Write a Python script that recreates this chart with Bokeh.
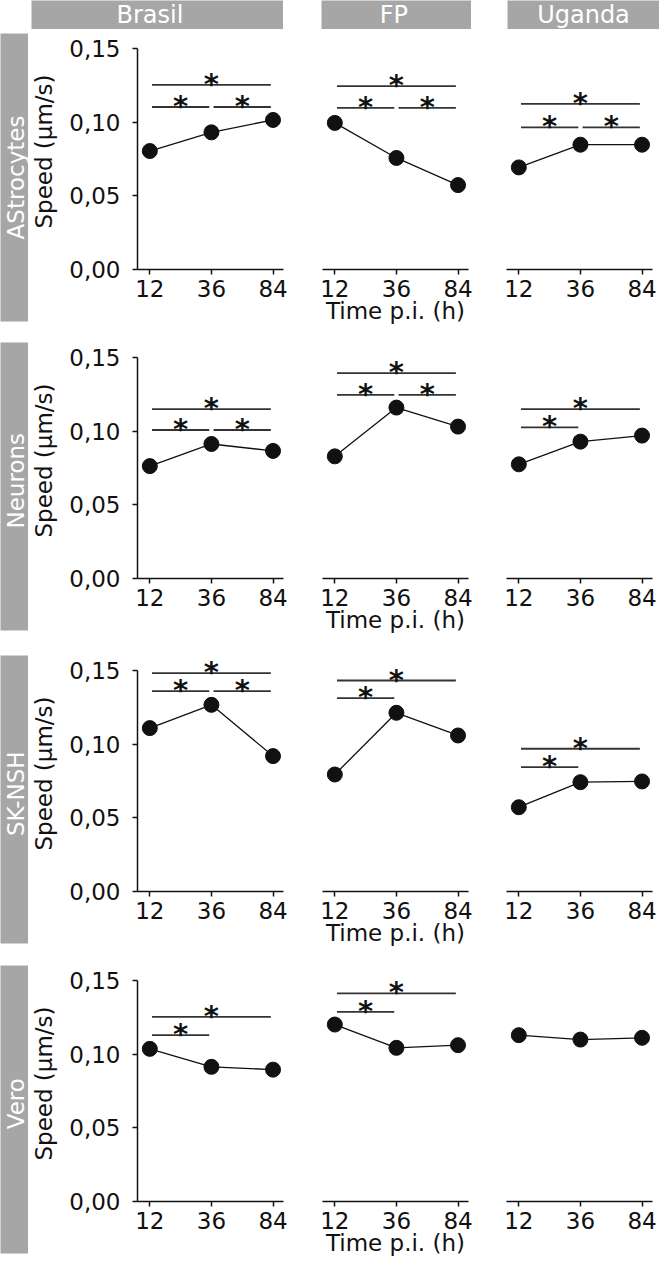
import numpy as np
from bokeh.plotting import figure
from bokeh.layouts import row, column
from bokeh.models import FixedTicker, CustomJSTickFormatter, Range1d, ColumnDataSource
from bokeh.core.properties import value
from bokeh.embed import file_html
from bokeh.resources import INLINE

# ---------------- data ----------------
times = ["12", "36", "84"]
cells = ["AStrocytes", "Neurons", "SK-NSH", "Vero"]
strains = ["Brasil", "FP", "Uganda"]
speed_ticks = [0.0, 0.05, 0.10, 0.15]

astro_brasil = [0.0804, 0.0931, 0.1015]
astro_fp = [0.0995, 0.0757, 0.0573]
astro_uganda = [0.0693, 0.0847, 0.0847]
neuron_brasil = [0.0763, 0.0913, 0.0866]
neuron_fp = [0.0829, 0.1160, 0.1031]
neuron_uganda = [0.0775, 0.0929, 0.0970]
sknsh_brasil = [0.1109, 0.1267, 0.0919]
sknsh_fp = [0.0794, 0.1213, 0.1059]
sknsh_uganda = [0.0572, 0.0742, 0.0747]
vero_brasil = [0.1036, 0.0914, 0.0895]
vero_fp = [0.1201, 0.1043, 0.1061]
vero_uganda = [0.1129, 0.1099, 0.1111]

# significance brackets: (from time index, to time index, bracket height)
sig_astro_brasil = [(0, 1, 0.1103), (1, 2, 0.1103), (0, 2, 0.1253)]
sig_astro_fp = [(0, 1, 0.1097), (1, 2, 0.1097), (0, 2, 0.1244)]
sig_astro_uganda = [(0, 1, 0.0965), (1, 2, 0.0965), (0, 2, 0.1124)]
sig_neuron_brasil = [(0, 1, 0.1008), (1, 2, 0.1008), (0, 2, 0.1149)]
sig_neuron_fp = [(0, 1, 0.1246), (1, 2, 0.1246), (0, 2, 0.1394)]
sig_neuron_uganda = [(0, 1, 0.1026), (0, 2, 0.1149)]
sig_sknsh_brasil = [(0, 1, 0.1360), (1, 2, 0.1360), (0, 2, 0.1482)]
sig_sknsh_fp = [(0, 1, 0.1312), (0, 2, 0.1432)]
sig_sknsh_uganda = [(0, 1, 0.0844), (0, 2, 0.0969)]
sig_vero_brasil = [(0, 1, 0.1129), (0, 2, 0.1253)]
sig_vero_fp = [(0, 1, 0.1287), (0, 2, 0.1412)]
sig_vero_uganda = []

grid_values = [
    [astro_brasil, astro_fp, astro_uganda],
    [neuron_brasil, neuron_fp, neuron_uganda],
    [sknsh_brasil, sknsh_fp, sknsh_uganda],
    [vero_brasil, vero_fp, vero_uganda],
]
grid_sigs = [
    [sig_astro_brasil, sig_astro_fp, sig_astro_uganda],
    [sig_neuron_brasil, sig_neuron_fp, sig_neuron_uganda],
    [sig_sknsh_brasil, sig_sknsh_fp, sig_sknsh_uganda],
    [sig_vero_brasil, sig_vero_fp, sig_vero_uganda],
]

# ---------------- style / layout ----------------
FONT = "DejaVu Sans"
GREY = "#a6a6a6"
INK = "#111111"
FRAME_W = 146
FRAME_H = 236
PX_015 = 221                      # pixels between 0.00 and 0.15
Y_END = 0.15 * FRAME_H / PX_015
ROW_H = [310, 311, 310, 301]
LABEL_TOP = [4, 3, 5, 5]
LABEL_H = 288
LABEL_TY = [0.5, 0.52, 0.52, 0.52]
COL_LEFT = [109, 20, 18]
COL_RIGHT = [19, 20, 7]
GAP = 0.035
HEAD_H = 29
HEAD_LEFT = [31, 38, 36]
HEAD_W = [252, 150, 152]
HEAD_TX = [0.47, 0.483, 0.50]


def base_fig(**kw):
    p = figure(toolbar_location=None, output_backend="svg", min_border=0,
               outline_line_color=None, border_fill_color="white", **kw)
    p.grid.visible = False
    return p


def header(i):
    p = base_fig(frame_width=HEAD_W[i], frame_height=HEAD_H,
                 x_range=Range1d(0, 1), y_range=Range1d(0, 1),
                 min_border_left=HEAD_LEFT[i], min_border_right=0,
                 min_border_top=0, min_border_bottom=0,
                 x_axis_location=None, y_axis_location=None,
                 background_fill_color=GREY)
    p.text(x=[HEAD_TX[i]], y=[0.5], text=[strains[i]], text_align="center",
           text_baseline="middle", text_color="white",
           text_font=value(FONT), text_font_size="24px")
    return p


def row_label(r):
    p = base_fig(frame_width=28, frame_height=LABEL_H,
                 x_range=Range1d(0, 1), y_range=Range1d(0, 1),
                 min_border_left=0, min_border_right=0,
                 min_border_top=LABEL_TOP[r],
                 min_border_bottom=ROW_H[r] - LABEL_H - LABEL_TOP[r],
                 x_axis_location=None, y_axis_location=None,
                 background_fill_color=GREY)
    p.text(x=[0.54], y=[LABEL_TY[r]], text=[cells[r]], angle=np.pi / 2,
           text_align="center", text_baseline="middle", text_color="white",
           text_font=value(FONT), text_font_size="23px")
    return p


def panel(r, c):
    p = base_fig(frame_width=FRAME_W, frame_height=FRAME_H,
                 x_range=Range1d(-0.2, 2.17), y_range=Range1d(0, Y_END),
                 min_border_left=COL_LEFT[c], min_border_right=COL_RIGHT[c],
                 min_border_top=0, min_border_bottom=ROW_H[r] - FRAME_H,
                 x_axis_location="below",
                 y_axis_location="left" if c == 0 else None,
                 background_fill_color="white")

    xa = p.xaxis[0]
    xa.ticker = FixedTicker(ticks=list(range(len(times))))
    xa.major_label_overrides = {i: t for i, t in enumerate(times)}
    xa.axis_line_width = 1.5
    xa.axis_line_color = INK
    xa.major_tick_line_width = 1.5
    xa.major_tick_line_color = INK
    xa.major_tick_out = 5
    xa.major_tick_in = 0
    xa.minor_tick_out = 0
    xa.minor_tick_in = 0
    xa.major_label_standoff = 5
    xa.major_label_text_font = FONT
    xa.major_label_text_font_size = "23px"
    xa.major_label_text_color = INK
    if c == 1:
        xa.axis_label = "Time p.i. (h)"
        xa.axis_label_text_font = FONT
        xa.axis_label_text_font_size = "23px"
        xa.axis_label_text_font_style = "normal"
        xa.axis_label_text_color = INK
        xa.axis_label_standoff = -2

    if c == 0:
        ya = p.yaxis[0]
        ya.ticker = FixedTicker(ticks=speed_ticks)
        ya.formatter = CustomJSTickFormatter(code="return tick.toFixed(2).replace('.', ',')")
        ya.bounds = (speed_ticks[0], speed_ticks[-1])
        ya.axis_line_width = 1.5
        ya.axis_line_color = INK
        ya.major_tick_line_width = 1.5
        ya.major_tick_line_color = INK
        ya.major_tick_out = 5
        ya.major_tick_in = 0
        ya.minor_tick_out = 0
        ya.minor_tick_in = 0
        ya.major_label_standoff = 12
        ya.major_label_text_font = FONT
        ya.major_label_text_font_size = "23px"
        ya.major_label_text_color = INK
        ya.axis_label = "Speed (µm/s)"
        ya.axis_label_text_font = FONT
        ya.axis_label_text_font_size = "23px"
        ya.axis_label_text_font_style = "normal"
        ya.axis_label_text_color = INK
        ya.axis_label_standoff = 9

    vals = grid_values[r][c]
    src = ColumnDataSource(dict(x=list(range(len(times))), y=vals))
    p.line("x", "y", source=src, line_color=INK, line_width=1.3)
    p.scatter("x", "y", source=src, size=15, fill_color=INK, line_color=INK)

    sigs = grid_sigs[r][c]
    if sigs:
        bsrc = ColumnDataSource(dict(
            x0=[a + GAP for a, b, h in sigs],
            x1=[b - GAP for a, b, h in sigs],
            y=[h for a, b, h in sigs],
            xm=[(a + b) / 2 for a, b, h in sigs],
            star=["*" for _ in sigs],
        ))
        p.segment(x0="x0", y0="y", x1="x1", y1="y", source=bsrc,
                  line_color="#333333", line_width=1.8)
        p.text(x="xm", y="y", text="star", source=bsrc, text_align="center",
               text_baseline="alphabetic", y_offset=-1, text_color=INK,
               text_font=value(FONT), text_font_size="29px",
               text_font_style="bold")
    return p


rows = [row(*[header(i) for i in range(3)])]
for r in range(4):
    rows.append(row(row_label(r), *[panel(r, c) for c in range(3)]))
layout = column(*rows)

open("out.html", "w").write(file_html(layout, INLINE))
